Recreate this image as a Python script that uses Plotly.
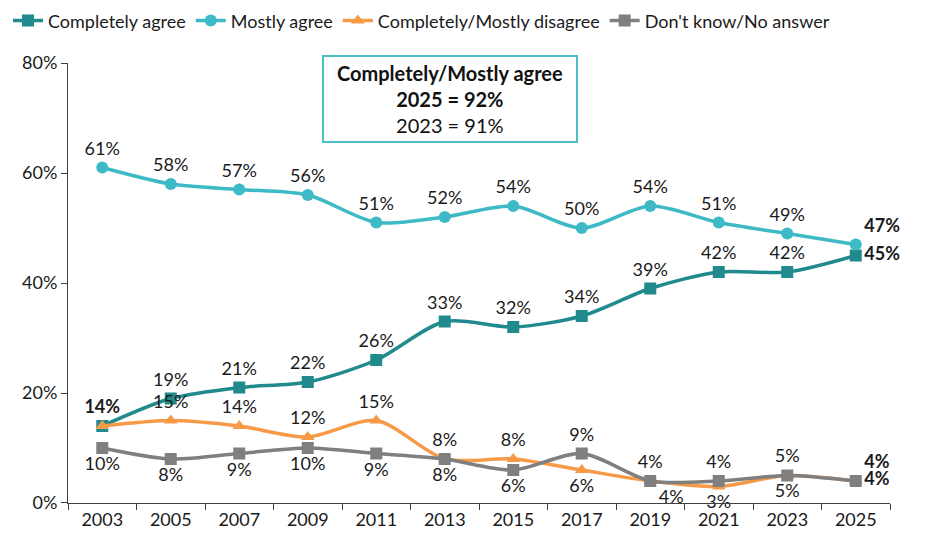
import plotly.graph_objects as go

years = ['2003', '2005', '2007', '2009', '2011', '2013', '2015', '2017', '2019', '2021', '2023', '2025']

completely_agree = [14, 19, 21, 22, 26, 33, 32, 34, 39, 42, 42, 45]
mostly_agree = [61, 58, 57, 56, 51, 52, 54, 50, 54, 51, 49, 47]
disagree = [14, 15, 14, 12, 15, 8, 8, 6, 4, 3, 5, 4]
dont_know = [10, 8, 9, 10, 9, 8, 6, 9, 4, 4, 5, 4]

box_lines = ['<b>Completely/Mostly agree</b>', '<b>2025 = 92%</b>', '2023 = 91%']
y_ticks = [0, 20, 40, 60, 80]

FONT = 'Lato'

fig = go.Figure()

# name, values, colour, marker, label positions, hidden labels, bold first label
series = [
    ('Completely agree', completely_agree, '#218A8C', 'square',
     ['top center'] * 11 + ['middle right'], set(), True),
    ('Mostly agree', mostly_agree, '#3DBAC6', 'circle',
     ['top center'] * 11 + ['top right'], set(), False),
    ('Completely/Mostly disagree', disagree, '#F79A48', 'triangle-up',
     ['top center'] * 7 + ['bottom center', 'bottom right', 'bottom center', 'bottom center', 'top right'], {0}, False),
    ("Don't know/No answer", dont_know, '#7F7F7F', 'square',
     ['bottom center'] * 7 + ['top center'] * 4 + ['middle right'], set(), False),
]

for name, vals, color, symbol, pos, hide, bold_first in series:
    text = []
    for i, v in enumerate(vals):
        if i in hide:
            text.append('')
        elif i == len(vals) - 1 or (i == 0 and bold_first):
            text.append('<b>%d%%</b>' % v)
        else:
            text.append('%d%%' % v)
    fig.add_trace(go.Scatter(
        x=years, y=vals, name=name,
        mode='lines+markers+text',
        line=dict(color=color, width=3.5, shape='spline', smoothing=0.8),
        marker=dict(symbol=symbol, size=12, color=color),
        text=text, textposition=pos,
        textfont=dict(family=FONT, size=18, color='#1a1a1a'),
        cliponaxis=False,
    ))

fig.add_annotation(
    x=0.465, y=1.018, xref='paper', yref='paper',
    xanchor='center', yanchor='top',
    text='<br>'.join(box_lines), showarrow=False,
    font=dict(family=FONT, size=20, color='#111'),
    align='center', width=250, height=82,
    bordercolor='#4BBFC5', borderwidth=2, borderpad=1, bgcolor='white',
)

# the page adds an 8px body margin, so the figure is 8px smaller than the window
fig.update_layout(
    width=918, height=534,
    margin=dict(l=60, r=36, t=54, b=38),
    plot_bgcolor='white', paper_bgcolor='white',
    font=dict(family=FONT, size=18, color='#1a1a1a'),
    hovermode=False,
    legend=dict(orientation='h', xref='container', yref='container',
                x=-0.012, y=0.976, xanchor='left', yanchor='middle',
                font=dict(family=FONT, size=18), itemwidth=30,
                tracegroupgap=0),
    xaxis=dict(type='category', range=[-0.5, 11.5], showgrid=False,
               showline=True, linecolor='#404040', linewidth=1,
               ticks='outside', tickson='boundaries', ticklen=6,
               tickcolor='#404040', tickfont=dict(size=18)),
    yaxis=dict(range=[0, 80], tickvals=y_ticks,
               ticktext=['%d%%' % t for t in y_ticks], showgrid=False,
               showline=True, linecolor='#404040', linewidth=1,
               ticks='outside', ticklen=6, tickcolor='#404040',
               zeroline=False, tickfont=dict(size=18)),
)

fig.write_html("out.html")
